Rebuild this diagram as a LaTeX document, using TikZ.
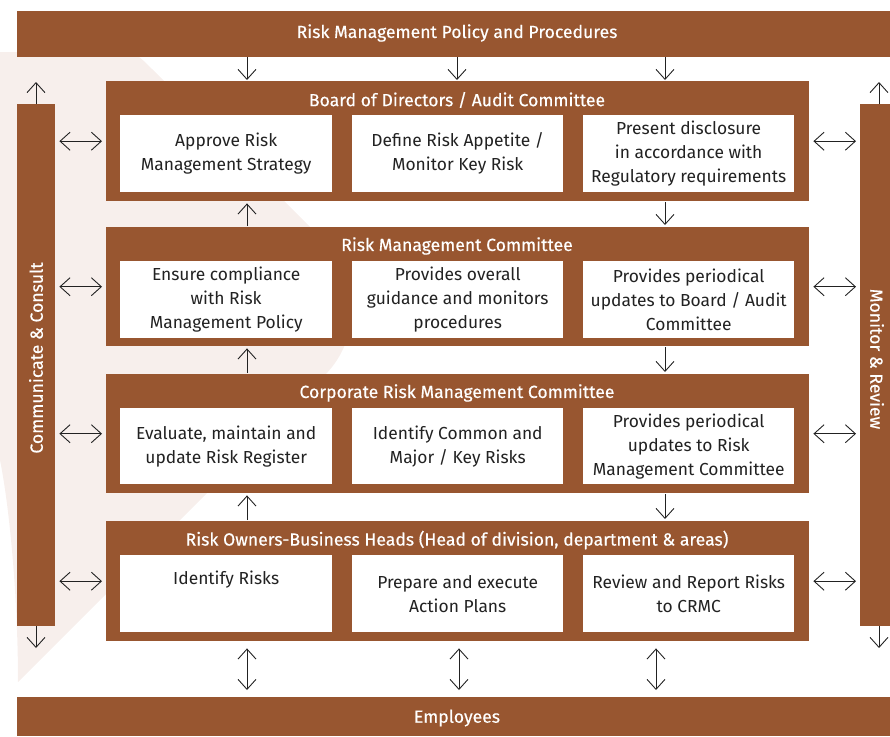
\documentclass[tikz,border=0pt]{standalone}
\usepackage{fontspec}
\setmainfont{Fira Sans}
\newfontfamily\titlefont[FakeBold=0.35]{Fira Sans}
\usetikzlibrary{arrows.meta,calc}
\definecolor{rust}{HTML}{985630}
\definecolor{blush}{HTML}{F7EFEC}
\definecolor{ink}{HTML}{222222}
\begin{document}
\begin{tikzpicture}[x=1pt,y=-1pt,
  bar/.style={fill=rust, inner sep=0pt, anchor=north west},
  bartext/.style={text=white, inner sep=0pt, font=\titlefont\fontsize{17.6}{20}\selectfont},
  group/.style={fill=rust, inner sep=0pt, anchor=north west, minimum width=703pt},
  ttl/.style={text=white, inner sep=0pt, font=\titlefont\fontsize{17.6}{20}\selectfont},
  cell/.style={fill=white, text=ink, inner sep=0pt, anchor=north west,
    minimum height=77pt, align=center, font=\fontsize{17.4}{24}\selectfont},
  barb/.tip={Straight Barb[length=10pt,width=18pt]},
  arr/.style={draw=ink, line width=0.9pt, -barb},
  darr/.style={draw=ink, line width=0.9pt, barb-barb},
]
\useasboundingbox (0,0) rectangle (890,736);

% soft background emblem
\fill[blush] (0,52) -- (110,52) .. controls (135,52) .. (152.7,69.7)
  -- (324.3,241.3) .. controls (361.4,278.4) and (361.4,338.6) .. (324.3,375.7)
  -- (18,682) .. controls (18,600) and (10,510) .. (0,460) -- cycle;

% outer bars
\node[bar, minimum width=873pt, minimum height=46pt] (top) at (17,11) {};
\node[bartext] (toptext) at (457,33) {Risk Management Policy and Procedures};
\node[bar, minimum width=873pt, minimum height=39pt] (emp) at (17,697) {};
\node[bartext] (emptext) at (457,718) {Employees};
\node[bar, minimum width=38pt, minimum height=522pt] (lbar) at (17,104) {};
\node[bartext, rotate=90] (lbartext) at (36,358) {Communicate \& Consult};
\node[bar, minimum width=30pt, minimum height=522pt] (rbar) at (860,104) {};
\node[bartext, rotate=-90] (rbartext) at (877,359) {Monitor \& Review};

% committee groups
\node[group, minimum height=120pt] (g1) at (106,81) {};
\node[ttl] (g1t) at (457,100) {Board of Directors / Audit Committee};
\node[group, minimum height=119pt] (g2) at (106,227) {};
\node[ttl] (g2t) at (457,246) {Risk Management Committee};
\node[group, minimum height=119pt] (g3) at (106,374) {};
\node[ttl] (g3t) at (457,393) {Corporate Risk Management Committee};
\node[group, minimum height=120pt] (g4) at (106,521) {};
\node[ttl] (g4t) at (457,540) {Risk Owners-Business Heads (Head of division, department \& areas)};

% responsibilities
\node[cell, minimum width=212pt] (c11) at (120,115) {Approve Risk\\Management Strategy};
\node[cell, minimum width=211pt] (c12) at (352,115) {Define Risk Appetite /\\Monitor Key Risk};
\node[cell, minimum width=211pt] (c13) at (583,115) {Present disclosure\\in accordance with\\Regulatory requirements};

\node[cell, minimum width=212pt] (c21) at (120,261) {Ensure compliance\\with Risk\\Management Policy};
\node[cell, minimum width=211pt] (c22) at (352,261) {Provides overall\\guidance and monitors\\procedures};
\node[cell, minimum width=211pt] (c23) at (583,261) {Provides periodical\\updates to Board / Audit\\Committee};

\node[cell, minimum width=212pt, minimum height=76pt] (c31) at (120,408) {Evaluate, maintain and\\update Risk Register};
\node[cell, minimum width=211pt, minimum height=76pt] (c32) at (352,408) {Identify Common and\\Major / Key Risks};
\node[cell, minimum width=211pt, minimum height=76pt] (c33) at (583,408) {Provides periodical\\updates to Risk\\Management Committee};

\node[cell, minimum width=212pt] (c41) at (120,555) {Identify Risks\\\strut};
\node[cell, minimum width=211pt] (c42) at (352,555) {Prepare and execute\\Action Plans};
\node[cell, minimum width=211pt] (c43) at (583,555) {Review and Report Risks\\to CRMC};

% arrow columns and free ends
\coordinate (colA) at (247,0);
\coordinate (colB) at (457,0);
\coordinate (colC) at (665,0);
\coordinate (colB2) at (459,0);
\coordinate (colC2) at (656,0);
\coordinate (lup) at (36,82);
\coordinate (ldn) at (36,648);
\coordinate (rup) at (879,82);
\coordinate (rdn) at (879,648);

% policy flows down to the board
\foreach \c in {colA,colB,colC}
  \draw[arr, shorten >=1pt] (top.south -| \c) -- (g1.north -| \c);

% escalation up, direction down
\draw[arr, shorten <=1pt, shorten >=2pt] (g2.north -| colA) -- (g1.south -| colA);
\draw[arr, shorten <=1pt, shorten >=2pt] (g3.north -| colA) -- (g2.south -| colA);
\draw[arr, shorten <=1pt, shorten >=2pt] (g4.north -| colA) -- (g3.south -| colA);
\draw[arr, shorten <=1pt, shorten >=2pt] (g1.south -| colC) -- (g2.north -| colC);
\draw[arr, shorten <=1pt, shorten >=2pt] (g2.south -| colC) -- (g3.north -| colC);
\draw[arr, shorten <=1pt, shorten >=2pt] (g3.south -| colC) -- (g4.north -| colC);

% two-way links with employees
\foreach \c in {colA,colB2,colC2}
  \draw[darr, shorten <=7pt, shorten >=7pt] (g4.south -| \c) -- (emp.north -| \c);

% two-way links with the side bars
\foreach \g in {g1,g2,g3,g4} {
  \draw[darr, shorten <=4pt, shorten >=4pt] (lbar.east |- \g.west) -- (\g.west);
  \draw[darr, shorten <=4pt, shorten >=4pt] (\g.east) -- (rbar.west |- \g.east);
}

% side bar continuations
\draw[arr] (lbar.north -| lup) -- (lup);
\draw[arr] (lbar.south -| ldn) -- (ldn);
\draw[arr] (rbar.north -| rup) -- (rup);
\draw[arr] (rbar.south -| rdn) -- (rdn);
\end{tikzpicture}
\end{document}
